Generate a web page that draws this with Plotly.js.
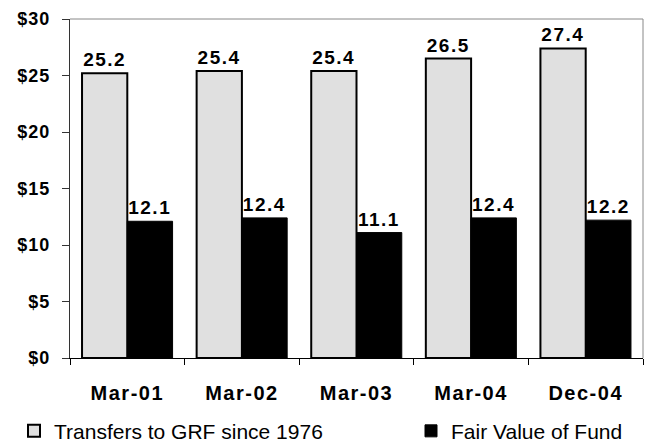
<!DOCTYPE html>
<html><head><meta charset="utf-8">
<script src="https://cdn.plot.ly/plotly-3.0.1.min.js"></script>
<style>
body{margin:0;background:#fff}#c{width:647px;height:445px}
#c .xtick text{letter-spacing:1.5px}
#c .ytick text{letter-spacing:1px}
#c text.bartext{letter-spacing:1.5px}
</style>
</head><body><div id="c"></div>
<script>
var categories = ["Mar-01", "Mar-02", "Mar-03", "Mar-04", "Dec-04"];
var transfers = [25.2, 25.4, 25.4, 26.5, 27.4];
var fairValue = [12.1, 12.4, 11.1, 12.4, 12.2];
var seriesNames = ["Transfers to GRF since 1976", "Fair Value of Fund"];
var yTickVals = [0, 5, 10, 15, 20, 25, 30];
var yTickText = ["$0", "$5", "$10", "$15", "$20", "$25", "$30"];

var F = "Liberation Sans, Arial, sans-serif";
var traces = [
  {type: "bar", name: seriesNames[0], x: categories, y: transfers, legend: "legend",
   marker: {color: "#e0e0e0", line: {color: "#000", width: 2}},
   text: transfers.map(function(v){return v.toFixed(1);}), textposition: "outside",
   textfont: {family: F, size: 19, color: "#000", weight: "bold"}, cliponaxis: false},
  {type: "bar", name: seriesNames[1], x: categories, y: fairValue, legend: "legend2",
   marker: {color: "#000", line: {color: "#000", width: 1}},
   text: fairValue.map(function(v){return v.toFixed(1);}), textposition: "outside",
   textfont: {family: F, size: 19, color: "#000", weight: "bold"}, cliponaxis: false}
];
var legendBase = {orientation: "h", xref: "container", yref: "container", y: 0.031, yanchor: "middle",
                  xanchor: "left", bgcolor: "rgba(0,0,0,0)", font: {family: F, size: 21, color: "#000"}};
var layout = {
  width: 647, height: 445,
  margin: {l: 70, r: 4, t: 19, b: 87},
  paper_bgcolor: "#fff", plot_bgcolor: "#fff",
  barmode: "group", bargap: 0.21, bargroupgap: 0,
  font: {family: F, color: "#000"},
  xaxis: {type: "category", showgrid: false, showline: true, linecolor: "#000", linewidth: 1,
          ticks: "outside", tickson: "boundaries", ticklen: 6, tickcolor: "#000",
          ticklabelstandoff: 17,
          tickfont: {family: F, size: 20, weight: "bold"}, zeroline: false},
  yaxis: {range: [0, 30], tickvals: yTickVals, ticktext: yTickText, showgrid: false,
          showline: true, linecolor: "#333", linewidth: 1, ticks: "outside", ticklen: 7,
          tickcolor: "#333", ticklabelstandoff: 8,
          tickfont: {family: F, size: 18, weight: "bold"}, zeroline: false},
  shapes: [
    {type: "line", xref: "paper", yref: "paper", x0: 0, x1: 1, y0: 1, y1: 1, line: {color: "#888", width: 1}},
    {type: "line", xref: "paper", yref: "paper", x0: 1, x1: 1, y0: 0, y1: 1, line: {color: "#888", width: 1}}
  ],
  showlegend: true,
  legend: Object.assign({}, legendBase, {x: 14 / 647}),
  legend2: Object.assign({}, legendBase, {x: 411 / 647})
};
Plotly.newPlot("c", traces, layout, {displayModeBar: false, staticPlot: true});
</script></body></html>
